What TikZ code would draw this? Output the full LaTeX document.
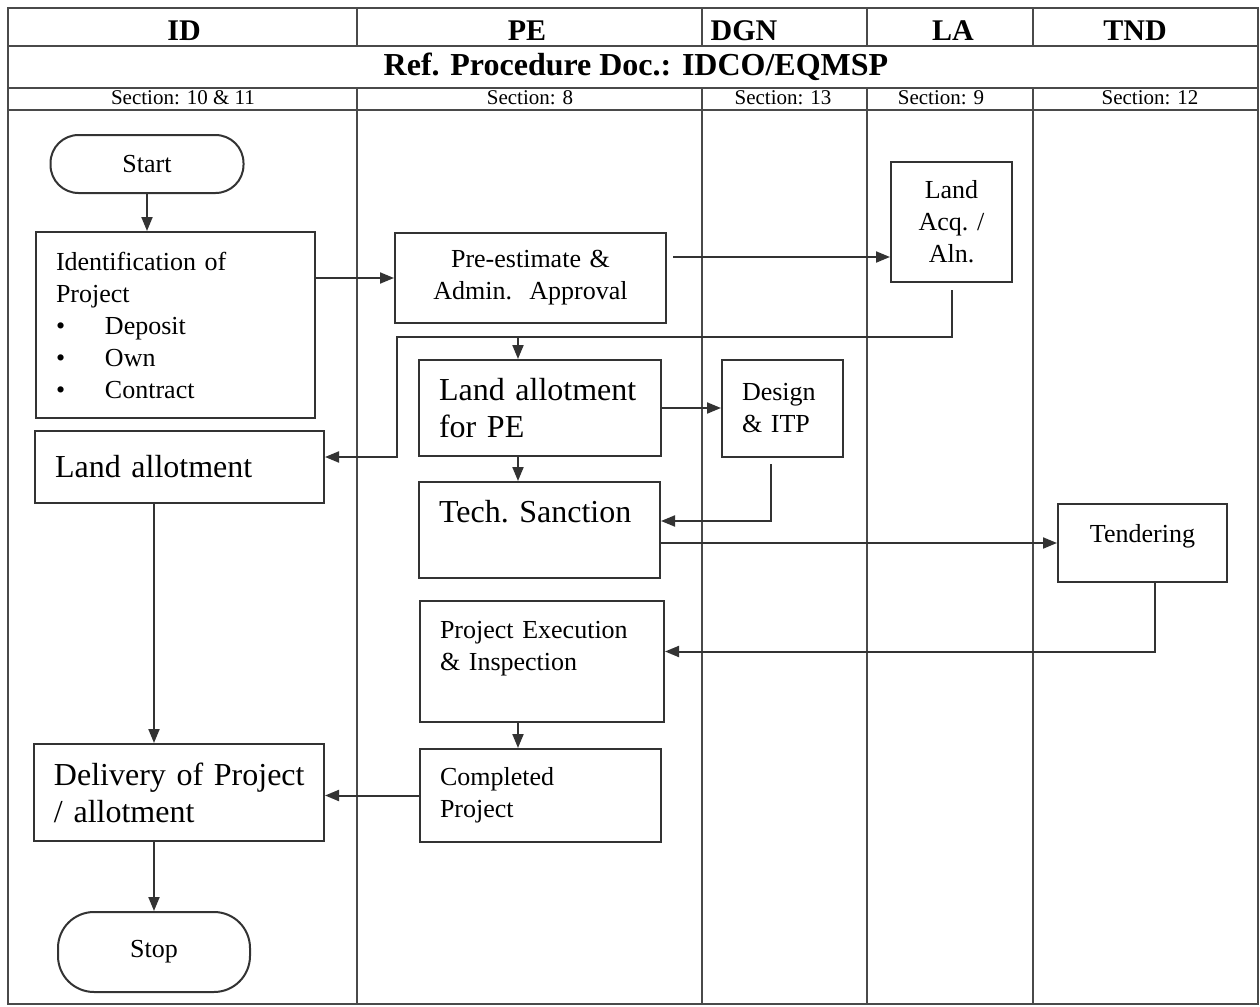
\documentclass[tikz,border=0pt]{standalone}
\usepackage{fontspec}
\setmainfont{Liberation Serif}
\usetikzlibrary{arrows.meta}
\definecolor{ink}{HTML}{333333}
\definecolor{rule}{HTML}{4a4a4a}
\newcommand{\bodyfont}{\fontsize{13}{16}\selectfont}
\newcommand{\bigfont}{\fontsize{16}{18.5}\selectfont}
\newcommand{\itm}[1]{\makebox[24.5pt][l]{\textbullet}#1}
\tikzset{
  box/.style={draw=ink, line width=1pt, inner xsep=10pt, inner ysep=0pt, align=left, font=\bodyfont},
  term/.style={draw=ink, line width=1pt, font=\bodyfont},
  arr/.style={draw=ink, line width=1pt, -{Triangle[length=7pt,width=5.5pt]}},
  hdr/.style={anchor=base, font=\fontsize{15}{18}\selectfont\bfseries},
  sect/.style={anchor=base, font=\fontsize{10.5}{12}\selectfont}
}
\begin{document}
\begin{tikzpicture}[x=0.5pt,y=-0.5pt]
\useasboundingbox (0,0) rectangle (1260,1007);
% lanes
\draw[rule, line width=0.7pt] (8,8) rectangle (1258,1004);
\draw[rule, line width=0.7pt] (8,46) -- (1258,46) (8,88) -- (1258,88) (8,110) -- (1258,110);
\foreach \cx in {357,702,867,1033}
  \draw[rule, line width=0.7pt] (\cx,8) -- (\cx,46) (\cx,88) -- (\cx,1004);
\node[hdr] (hid) at (184,40) {ID};
\node[hdr] (hpe) at (527,40) {PE};
\node[hdr] (hdgn) at (744,40) {DGN};
\node[hdr] (hla) at (953,40) {LA};
\node[hdr] (htnd) at (1135,40) {TND};
\node[hdr, font=\fontsize{16}{18}\selectfont\bfseries] (title) at (636,75) {Ref. Procedure Doc.: IDCO/EQMSP};
\node[sect] (sid) at (183,104) {Section: 10 \& 11};
\node[sect] (spe) at (530,104) {Section: 8};
\node[sect] (sdgn) at (783,104) {Section: 13};
\node[sect] (sla) at (941,104) {Section: 9};
\node[sect] (stnd) at (1150,104) {Section: 12};
% steps
\node[term, rounded corners=14pt, minimum width=96.5pt, minimum height=29pt] (start) at (147,164) {Start};
\node[box, text width=119.5pt, minimum height=93pt] (ident) at (175.5,325) {Identification of\\Project\\\itm{Deposit}\\\itm{Own}\\\itm{Contract}};
\node[box, font=\bigfont, text width=124.5pt, minimum height=36pt] (landid) at (179.5,467) {Land allotment};
\node[box, font=\bigfont, text width=125pt, minimum height=48.5pt] (deliv) at (179,792.5) {\mbox{Delivery of Project}\\/ allotment};
\node[term, rounded corners=18pt, minimum width=96pt, minimum height=40pt] (stop) at (154,952) {Stop};
\node[box, align=center, text width=115.5pt, minimum height=45pt] (pre) at (530.5,278) {Pre-estimate \&\\Admin.\ \ Approval};
\node[box, font=\bigfont, text width=101pt, minimum height=48pt] (landpe) at (540,408) {Land allotment\\for PE};
\node[box, font=\bigfont, text width=100.5pt, minimum height=48pt] (tech) at (539.5,530) {Tech.\ Sanction\\\mbox{}};
\node[box, text width=102pt, minimum height=60.5pt] (proexec) at (542,661.5) {Project Execution\\\& Inspection\\\mbox{}};
\node[box, text width=100.5pt, minimum height=46.5pt] (done) at (540.5,795.5) {Completed\\Project};
\node[box, text width=40.5pt, minimum height=48.5pt] (design) at (782.5,408.5) {Design\\\& ITP};
\node[box, align=center, text width=40.5pt, minimum height=60pt] (acq) at (951.5,222) {Land\\Acq.\ /\\Aln.};
\node[box, align=center, text width=64.5pt, minimum height=39pt] (tender) at (1142.5,543) {Tendering\\[-6pt]\mbox{}};
\coordinate (preout) at (673,257);
\coordinate (jn) at (397,337);
\coordinate (pex) at (518,0);
\coordinate (idx) at (154,0);
% flow
\draw[arr] (start.south) -- (start |- ident.north);
\draw[arr] (ident.east |- pre) -- (pre.west);
\draw[arr] (preout) -- (preout -| acq.west);
\draw[arr] ([yshift=-3.5pt]acq.south) |- (jn) |- ([yshift=5pt]landid.east);
\draw[arr] (pex |- jn) -- (pex |- landpe.north);
\draw[arr] (landpe.east) -- (landpe.east -| design.west);
\draw[arr] (pex |- landpe.south) -- (pex |- tech.north);
\draw[arr] ([xshift=-6pt,yshift=-3pt]design.south) |- ([yshift=4.5pt]tech.east);
\draw[arr] (tech.east |- tender) -- (tender.west);
\draw[arr] ([xshift=6pt]tender.south) |- ([yshift=5pt]proexec.east);
\draw[arr] (pex |- proexec.south) -- (pex |- done.north);
\draw[arr] (done.west) -- (done.west -| deliv.east);
\draw[arr] (idx |- landid.south) -- (idx |- deliv.north);
\draw[arr] (idx |- deliv.south) -- (idx |- stop.north);
\end{tikzpicture}
\end{document}
